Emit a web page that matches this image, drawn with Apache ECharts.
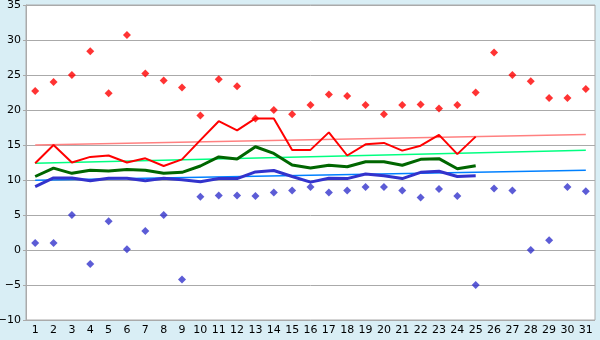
<!DOCTYPE html>
<html>
<head>
<meta charset="utf-8">
<script src="https://cdn.jsdelivr.net/npm/echarts@6/dist/echarts.min.js"></script>
<style>
html,body{margin:0;padding:0;background:#d9eef5;}
#c{width:600px;height:340px;}
</style>
</head>
<body>
<div id="c"></div>
<script>
var days = ['1','2','3','4','5','6','7','8','9','10','11','12','13','14','15','16','17','18','19','20','21','22','23','24','25','26','27','28','29','30','31'];
var dailyMax = [22.7,24.0,25.0,28.4,22.4,30.7,25.2,24.2,23.2,19.2,24.4,23.4,18.8,20.0,19.4,20.7,22.2,22.0,20.7,19.4,20.7,20.8,20.2,20.7,22.5,28.2,25.0,24.1,21.7,21.7,23.0];
var dailyMin = [1.0,1.0,5.0,-2.0,4.1,0.1,2.7,5.0,-4.2,7.6,7.8,7.8,7.7,8.2,8.5,9.0,8.2,8.5,9.0,9.0,8.5,7.5,8.7,7.7,-5.0,8.8,8.5,0.0,1.4,9.0,8.4];
var avgMax = [12.4,15.0,12.5,13.3,13.5,12.5,13.1,12.0,12.95,15.7,18.4,17.1,18.8,18.8,14.3,14.3,16.8,13.5,15.1,15.3,14.2,14.9,16.45,13.7,16.2];
var avgMean = [10.5,11.7,10.95,11.4,11.3,11.5,11.4,10.95,11.1,12.0,13.3,13.0,14.75,13.8,12.15,11.7,12.1,11.9,12.6,12.6,12.1,12.95,13.05,11.6,12.05];
var avgMin = [9.05,10.3,10.3,9.9,10.25,10.25,9.9,10.25,10.05,9.75,10.2,10.2,11.15,11.35,10.5,9.7,10.25,10.2,10.85,10.6,10.2,11.1,11.25,10.5,10.6];
var trendMax = [15.0, 16.5];
var trendMean = [12.4, 14.25];
var trendMin = [9.95, 11.4];
var yTicks = {min: -10, max: 35, step: 5};

function trendData(t){
  var a = days.map(function(){return null;});
  a[0] = t[0]; a[days.length-1] = t[1];
  return a;
}

var chart = echarts.init(document.getElementById('c'), null, {renderer:'canvas'});
var lbl = {color:'#000', fontFamily:'DejaVu Sans', fontSize:11};
chart.setOption({
  backgroundColor:'#d9eef5',
  animation:false,
  grid:{left:26,right:5,top:5,bottom:20,containLabel:false,outerBoundsMode:'none',show:true,backgroundColor:'#ffffff',borderColor:'#aaaaaa',borderWidth:1},
  xAxis:{type:'category',data:days,boundaryGap:true,
    axisLine:{lineStyle:{color:'#aaaaaa'}},
    axisTick:{alignWithLabel:true,interval:0,length:4,lineStyle:{color:'#333'}},
    axisLabel:Object.assign({margin:5,interval:0,hideOverlap:false},lbl),
    splitLine:{show:false}},
  yAxis:{type:'value',min:yTicks.min,max:yTicks.max,interval:yTicks.step,
    axisLine:{show:true,lineStyle:{color:'#aaaaaa'}},
    axisTick:{show:true,length:3,lineStyle:{color:'#aaaaaa'}},
    axisLabel:Object.assign({margin:5,formatter:function(v){return String(v).replace('-','\u2212');}},lbl),
    splitLine:{lineStyle:{color:'#aaaaaa',width:1}}},
  series:[
    {type:'line',data:trendData(trendMax),connectNulls:true,symbol:'none',lineStyle:{color:'#ff8080',width:1.5},z:2},
    {type:'line',data:trendData(trendMean),connectNulls:true,symbol:'none',lineStyle:{color:'#00ff80',width:1.5},z:2},
    {type:'line',data:trendData(trendMin),connectNulls:true,symbol:'none',lineStyle:{color:'#0080ff',width:1.5},z:2},
    {type:'line',data:avgMax,symbol:'none',lineStyle:{color:'#ff0000',width:2},z:3},
    {type:'line',data:avgMean,symbol:'none',lineStyle:{color:'#006600',width:3},z:3},
    {type:'line',data:avgMin,symbol:'none',lineStyle:{color:'#3333cc',width:3},z:3},
    {type:'scatter',data:dailyMax,symbol:'diamond',symbolSize:8,itemStyle:{color:'#ff0000'},z:4},
    {type:'scatter',data:dailyMin,symbol:'diamond',symbolSize:8,itemStyle:{color:'#3333cc'},z:4}
  ]
});
</script>
</body>
</html>
